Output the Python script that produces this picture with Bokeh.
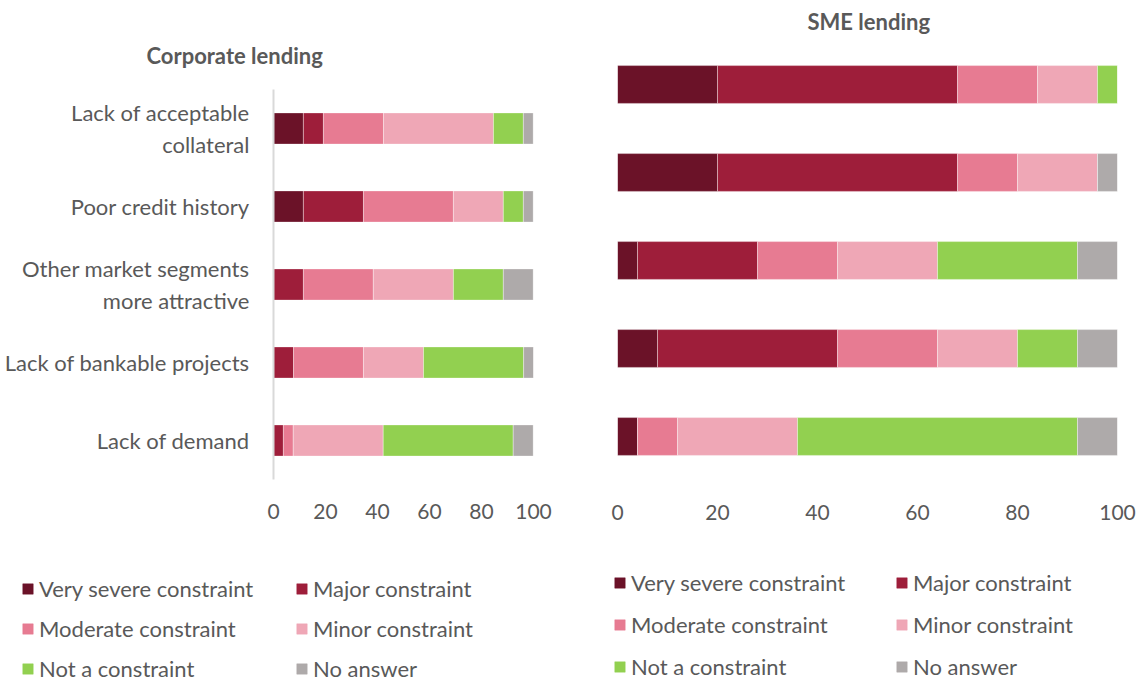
from bokeh.plotting import figure
from bokeh.layouts import row, column
from bokeh.models import ColumnDataSource, FactorRange, Range1d, FixedTicker, Legend, LegendItem
from bokeh.embed import file_html
from bokeh.resources import INLINE

# ---------------- data ----------------
categories = [
    "Lack of acceptable\ncollateral",
    "Poor credit history",
    "Other market segments\nmore attractive",
    "Lack of bankable projects",
    "Lack of demand",
]
series_names = ["Very severe constraint", "Major constraint", "Moderate constraint",
                "Minor constraint", "Not a constraint", "No answer"]
series_keys = ["very_severe", "major", "moderate", "minor", "not_constraint", "no_answer"]
colors = ["#6B1228", "#9E1E3A", "#E77B92", "#EFA7B6", "#92D050", "#AEAAAA"]

# Corporate lending (%)
corp_very_severe = [11.5, 11.5, 0.0, 0.0, 0.0]
corp_major = [7.7, 23.1, 11.5, 7.7, 3.8]
corp_moderate = [23.1, 34.6, 26.9, 26.9, 3.8]
corp_minor = [42.3, 19.2, 30.8, 23.1, 34.6]
corp_not = [11.5, 7.7, 19.2, 38.5, 50.0]
corp_no_answer = [3.8, 3.8, 11.5, 3.8, 7.7]

# SME lending (%)
sme_very_severe = [20, 20, 4, 8, 4]
sme_major = [48, 48, 24, 36, 0]
sme_moderate = [16, 12, 16, 20, 8]
sme_minor = [12, 16, 20, 16, 24]
sme_not = [4, 0, 28, 12, 56]
sme_no_answer = [0, 4, 8, 8, 8]

x_ticks = [0, 20, 40, 60, 80, 100]

TEXT = "#595959"
FONT = "Lato"
FS_TICK = "21px"
FS = "22px"
TOP_H = 545
LEG_H = 137


def make_source(vals):
    d = {"cat": categories}
    for k, v in zip(series_keys, vals):
        d[k] = v
    return ColumnDataSource(d)


def base_fig(width, bl, br, bt, bb, title, offset, standoff, valign):
    p = figure(width=width, height=TOP_H, output_backend="svg", toolbar_location=None,
               y_range=FactorRange(factors=list(reversed(categories))),
               x_range=Range1d(0, 100),
               min_border_left=bl, min_border_right=br, min_border_top=bt, min_border_bottom=bb)
    p.title.text = title
    p.title.align = "left"
    p.title.vertical_align = valign
    p.title.offset = offset
    p.title.standoff = standoff
    p.title.text_font = FONT
    p.title.text_font_style = "bold"
    p.title.text_font_size = "22px"
    p.title.text_color = TEXT
    p.outline_line_color = None
    p.xgrid.visible = False
    p.ygrid.visible = False
    p.xaxis.ticker = FixedTicker(ticks=x_ticks)
    p.xaxis.axis_line_color = None
    p.xaxis.major_tick_line_color = None
    p.xaxis.minor_tick_line_color = None
    p.xaxis.major_label_text_font_size = FS_TICK
    p.xaxis.major_label_text_font = FONT
    p.xaxis.major_label_text_color = TEXT
    p.xaxis.major_label_standoff = 18
    return p


def legend_fig(width, vx, vy, spacing, label_width):
    lf = figure(width=width, height=LEG_H, output_backend="svg", toolbar_location=None,
                x_axis_type=None, y_axis_type=None, min_border=0,
                x_range=Range1d(0, 1), y_range=Range1d(0, 1))
    lf.outline_line_color = None
    lf.grid.visible = False
    rs = []
    for c in colors:
        # zero-size placeholder glyph: only provides the legend swatch style
        r = lf.hbar(y=[0], left=[0], right=[0], height=0, fill_color=c, line_color=c, line_width=0.5)
        rs.append(r)
    order = [0, 2, 4, 1, 3, 5]   # column-major: left column then right column
    items = [LegendItem(label=series_names[i], renderers=[rs[i]]) for i in order]
    lg = Legend(items=items, location=(vx, vy), orientation="vertical", ncols=2,
                glyph_width=13, glyph_height=13, label_standoff=5, label_height=26,
                label_width=label_width,
                spacing=spacing, padding=0, margin=0, border_line_color=None,
                background_fill_alpha=0,
                label_text_font=FONT, label_text_font_size=FS,
                label_text_color=TEXT)
    lf.add_layout(lg, "center")
    return lf


# ---------------- Corporate lending ----------------
src1 = make_source([corp_very_severe, corp_major, corp_moderate, corp_minor, corp_not, corp_no_answer])
p1 = base_fig(580, 273, 47, 89, TOP_H - 479, "Corporate lending", -127, 42, "bottom")
p1.hbar_stack(series_keys, y="cat", height=0.4, source=src1, fill_color=colors,
              line_color="white", line_width=0.6, line_alpha=0.6)
p1.yaxis.axis_line_color = "#D9D9D9"
p1.yaxis.axis_line_width = 2
p1.yaxis.major_tick_line_color = None
p1.yaxis.minor_tick_line_color = None
p1.yaxis.major_label_text_font_size = FS
p1.yaxis.major_label_text_font = FONT
p1.yaxis.major_label_text_color = TEXT
p1.yaxis.major_label_standoff = 18
l1 = legend_fig(580, 21, 0, 13, 243)

# ---------------- SME lending ----------------
src2 = make_source([sme_very_severe, sme_major, sme_moderate, sme_minor, sme_not, sme_no_answer])
p2 = base_fig(556, 37, 19, 40, TOP_H - 480, "SME lending", 190, 8, "top")
p2.hbar_stack(series_keys, y="cat", height=0.43, source=src2, fill_color=colors,
              line_color="white", line_width=0.6, line_alpha=0.6)
p2.yaxis.visible = False
l2 = legend_fig(556, 33, 2, 15, 249)

layout = row(column(p1, row(l1)), column(p2, row(l2)))
open("out.html", "w").write(file_html(layout, INLINE))
